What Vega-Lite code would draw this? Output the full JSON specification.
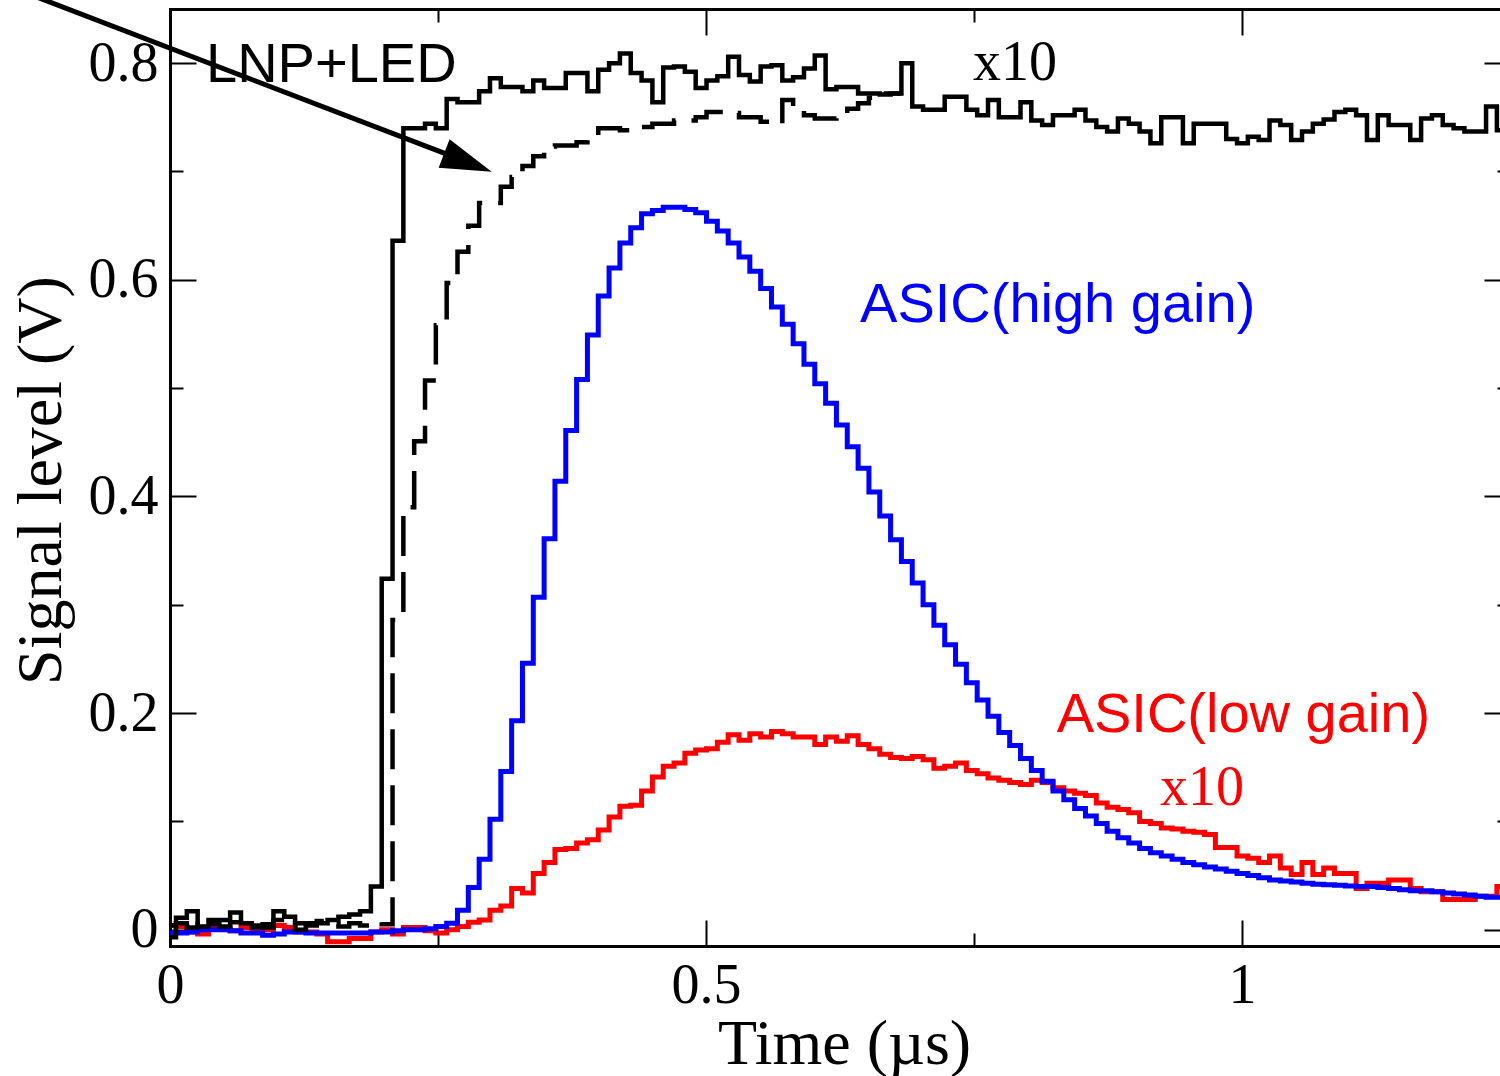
{
"$schema": "https://vega.github.io/schema/vega-lite/v6.json",
"width": 1330,
"height": 937,
"autosize": {"type": "none"},
"padding": {"left": 170, "top": 9, "right": 0, "bottom": 130},
"background": "white",
"config": {
  "view": {"stroke": null},
  "axis": {"grid": false, "domainColor": "#000000", "domainWidth": 3, "domainCap": "square", "tickColor": "#000000", "tickWidth": 2, "tickSize": -26, "labelColor": "#000000", "titleColor": "#000000", "labelFont": "Liberation Serif", "titleFont": "Liberation Serif", "labelFontSize": 56, "titleFontSize": 64, "titleFontWeight": "normal", "labelFlush": false, "labelOverlap": false, "labelPadding": 38, "zindex": 1}
},
"resolve": {"axis": {"x": "independent", "y": "independent"}},
"datasets": {
"lnp": [{"t":0,"v":-0.007},{"t":0.0056,"v":0.011},{"t":0.0157,"v":0.017},{"t":0.0258,"v":0.003},{"t":0.0359,"v":0.009},{"t":0.046,"v":0.009},{"t":0.0561,"v":0.016},{"t":0.0662,"v":0.006},{"t":0.0763,"v":0.002},{"t":0.0864,"v":0.002},{"t":0.0965,"v":0.017},{"t":0.1066,"v":0.012},{"t":0.1167,"v":0.0},{"t":0.1268,"v":0.006},{"t":0.1369,"v":0.006},{"t":0.147,"v":0.009},{"t":0.1571,"v":0.012},{"t":0.1672,"v":0.014},{"t":0.1773,"v":0.017},{"t":0.1874,"v":0.040},{"t":0.1975,"v":0.324},{"t":0.2076,"v":0.636},{"t":0.2177,"v":0.740},{"t":0.2278,"v":0.740},{"t":0.2379,"v":0.744},{"t":0.248,"v":0.740},{"t":0.2581,"v":0.767},{"t":0.2682,"v":0.764},{"t":0.2783,"v":0.764},{"t":0.2884,"v":0.774},{"t":0.2985,"v":0.786},{"t":0.3086,"v":0.778},{"t":0.3187,"v":0.778},{"t":0.3288,"v":0.774},{"t":0.3389,"v":0.784},{"t":0.349,"v":0.777},{"t":0.3591,"v":0.777},{"t":0.3692,"v":0.791},{"t":0.3793,"v":0.791},{"t":0.3894,"v":0.774},{"t":0.3995,"v":0.794},{"t":0.4096,"v":0.800},{"t":0.4197,"v":0.809},{"t":0.4298,"v":0.791},{"t":0.4399,"v":0.784},{"t":0.45,"v":0.764},{"t":0.4601,"v":0.796},{"t":0.4702,"v":0.797},{"t":0.4803,"v":0.792},{"t":0.4904,"v":0.777},{"t":0.5005,"v":0.784},{"t":0.5106,"v":0.788},{"t":0.5207,"v":0.806},{"t":0.5308,"v":0.789},{"t":0.5409,"v":0.783},{"t":0.551,"v":0.797},{"t":0.5611,"v":0.798},{"t":0.5712,"v":0.784},{"t":0.5813,"v":0.787},{"t":0.5914,"v":0.795},{"t":0.6015,"v":0.807},{"t":0.6116,"v":0.776},{"t":0.6217,"v":0.778},{"t":0.6318,"v":0.778},{"t":0.6419,"v":0.772},{"t":0.652,"v":0.772},{"t":0.6621,"v":0.771},{"t":0.6722,"v":0.772},{"t":0.6823,"v":0.800},{"t":0.6924,"v":0.760},{"t":0.7025,"v":0.757},{"t":0.7126,"v":0.757},{"t":0.7227,"v":0.769},{"t":0.7328,"v":0.769},{"t":0.7429,"v":0.757},{"t":0.753,"v":0.752},{"t":0.7631,"v":0.766},{"t":0.7732,"v":0.750},{"t":0.7833,"v":0.750},{"t":0.7934,"v":0.764},{"t":0.8035,"v":0.747},{"t":0.8136,"v":0.743},{"t":0.8237,"v":0.752},{"t":0.8338,"v":0.752},{"t":0.8439,"v":0.757},{"t":0.854,"v":0.747},{"t":0.8641,"v":0.741},{"t":0.8742,"v":0.737},{"t":0.8843,"v":0.749},{"t":0.8944,"v":0.744},{"t":0.9045,"v":0.737},{"t":0.9146,"v":0.726},{"t":0.9247,"v":0.750},{"t":0.9348,"v":0.750},{"t":0.9449,"v":0.726},{"t":0.955,"v":0.744},{"t":0.9651,"v":0.744},{"t":0.9752,"v":0.744},{"t":0.9853,"v":0.730},{"t":0.9954,"v":0.726},{"t":1.0055,"v":0.732},{"t":1.0156,"v":0.729},{"t":1.0257,"v":0.747},{"t":1.0358,"v":0.743},{"t":1.0459,"v":0.729},{"t":1.056,"v":0.737},{"t":1.0661,"v":0.744},{"t":1.0762,"v":0.748},{"t":1.0863,"v":0.755},{"t":1.0964,"v":0.757},{"t":1.1065,"v":0.752},{"t":1.1166,"v":0.729},{"t":1.1267,"v":0.752},{"t":1.1368,"v":0.743},{"t":1.1469,"v":0.743},{"t":1.157,"v":0.729},{"t":1.1671,"v":0.749},{"t":1.1772,"v":0.752},{"t":1.1873,"v":0.743},{"t":1.1974,"v":0.740},{"t":1.2075,"v":0.737},{"t":1.2176,"v":0.737},{"t":1.2277,"v":0.760},{"t":1.2378,"v":0.738},{"t":1.2479,"v":0.734}],
"lnpd": [{"t":0,"v":0.004},{"t":0.0056,"v":0.006},{"t":0.0157,"v":0.002},{"t":0.0258,"v":0.008},{"t":0.0359,"v":0.005},{"t":0.046,"v":0.003},{"t":0.0561,"v":0.007},{"t":0.0662,"v":0.010},{"t":0.0763,"v":0.004},{"t":0.0864,"v":0.005},{"t":0.0965,"v":0.009},{"t":0.1066,"v":0.003},{"t":0.1167,"v":0.006},{"t":0.1268,"v":0.004},{"t":0.1369,"v":0.008},{"t":0.147,"v":0.005},{"t":0.1571,"v":0.003},{"t":0.1672,"v":0.006},{"t":0.1773,"v":0.004},{"t":0.1874,"v":0.007},{"t":0.1975,"v":0.005},{"t":0.2076,"v":0.286},{"t":0.2177,"v":0.39},{"t":0.2278,"v":0.451},{"t":0.2379,"v":0.507},{"t":0.248,"v":0.558},{"t":0.2581,"v":0.597},{"t":0.2682,"v":0.626},{"t":0.2783,"v":0.650},{"t":0.2884,"v":0.671},{"t":0.2985,"v":0.671},{"t":0.3086,"v":0.686},{"t":0.3187,"v":0.695},{"t":0.3288,"v":0.705},{"t":0.3389,"v":0.714},{"t":0.349,"v":0.723},{"t":0.3591,"v":0.724},{"t":0.3692,"v":0.724},{"t":0.3793,"v":0.727},{"t":0.3894,"v":0.729},{"t":0.3995,"v":0.740},{"t":0.4096,"v":0.740},{"t":0.4197,"v":0.738},{"t":0.4298,"v":0.741},{"t":0.4399,"v":0.741},{"t":0.45,"v":0.744},{"t":0.4601,"v":0.744},{"t":0.4702,"v":0.747},{"t":0.4803,"v":0.747},{"t":0.4904,"v":0.750},{"t":0.5005,"v":0.755},{"t":0.5106,"v":0.755},{"t":0.5207,"v":0.754},{"t":0.5308,"v":0.750},{"t":0.5409,"v":0.750},{"t":0.551,"v":0.746},{"t":0.5611,"v":0.744},{"t":0.5712,"v":0.766},{"t":0.5813,"v":0.757},{"t":0.5914,"v":0.752},{"t":0.6015,"v":0.749},{"t":0.6116,"v":0.749},{"t":0.6217,"v":0.756},{"t":0.6318,"v":0.758},{"t":0.6419,"v":0.763},{"t":0.652,"v":0.768},{"t":0.6621,"v":0.772},{"t":0.6722,"v":0.772},{"t":0.6823,"v":0.772}],
"hi": [{"t":0,"v":-0.003},{"t":0.0056,"v":-0.003},{"t":0.0157,"v":-0.002},{"t":0.0258,"v":0.0},{"t":0.0359,"v":0.0},{"t":0.046,"v":0.0},{"t":0.0561,"v":-0.001},{"t":0.0662,"v":-0.003},{"t":0.0763,"v":-0.003},{"t":0.0864,"v":-0.005},{"t":0.0965,"v":-0.004},{"t":0.1066,"v":-0.002},{"t":0.1167,"v":-0.002},{"t":0.1268,"v":-0.003},{"t":0.1369,"v":-0.003},{"t":0.147,"v":-0.003},{"t":0.1571,"v":-0.003},{"t":0.1672,"v":-0.003},{"t":0.1773,"v":-0.003},{"t":0.1874,"v":-0.002},{"t":0.1975,"v":-0.002},{"t":0.2076,"v":-0.001},{"t":0.2177,"v":0.0},{"t":0.2278,"v":0.0},{"t":0.2379,"v":0.001},{"t":0.248,"v":0.003},{"t":0.2581,"v":0.006},{"t":0.2682,"v":0.018},{"t":0.2783,"v":0.039},{"t":0.2884,"v":0.065},{"t":0.2985,"v":0.102},{"t":0.3086,"v":0.146},{"t":0.3187,"v":0.193},{"t":0.3288,"v":0.246},{"t":0.3389,"v":0.307},{"t":0.349,"v":0.361},{"t":0.3591,"v":0.414},{"t":0.3692,"v":0.461},{"t":0.3793,"v":0.508},{"t":0.3894,"v":0.549},{"t":0.3995,"v":0.585},{"t":0.4096,"v":0.611},{"t":0.4197,"v":0.634},{"t":0.4298,"v":0.648},{"t":0.4399,"v":0.661},{"t":0.45,"v":0.664},{"t":0.4601,"v":0.667},{"t":0.4702,"v":0.667},{"t":0.4803,"v":0.665},{"t":0.4904,"v":0.662},{"t":0.5005,"v":0.654},{"t":0.5106,"v":0.645},{"t":0.5207,"v":0.634},{"t":0.5308,"v":0.621},{"t":0.5409,"v":0.608},{"t":0.551,"v":0.592},{"t":0.5611,"v":0.575},{"t":0.5712,"v":0.559},{"t":0.5813,"v":0.541},{"t":0.5914,"v":0.522},{"t":0.6015,"v":0.504},{"t":0.6116,"v":0.486},{"t":0.6217,"v":0.466},{"t":0.6318,"v":0.446},{"t":0.6419,"v":0.426},{"t":0.652,"v":0.404},{"t":0.6621,"v":0.382},{"t":0.6722,"v":0.360},{"t":0.6823,"v":0.340},{"t":0.6924,"v":0.320},{"t":0.7025,"v":0.300},{"t":0.7126,"v":0.281},{"t":0.7227,"v":0.263},{"t":0.7328,"v":0.245},{"t":0.7429,"v":0.228},{"t":0.753,"v":0.212},{"t":0.7631,"v":0.197},{"t":0.7732,"v":0.182},{"t":0.7833,"v":0.170},{"t":0.7934,"v":0.158},{"t":0.8035,"v":0.147},{"t":0.8136,"v":0.137},{"t":0.8237,"v":0.128},{"t":0.8338,"v":0.120},{"t":0.8439,"v":0.112},{"t":0.854,"v":0.105},{"t":0.8641,"v":0.098},{"t":0.8742,"v":0.091},{"t":0.8843,"v":0.085},{"t":0.8944,"v":0.080},{"t":0.9045,"v":0.075},{"t":0.9146,"v":0.071},{"t":0.9247,"v":0.068},{"t":0.9348,"v":0.065},{"t":0.9449,"v":0.062},{"t":0.955,"v":0.060},{"t":0.9651,"v":0.058},{"t":0.9752,"v":0.056},{"t":0.9853,"v":0.054},{"t":0.9954,"v":0.052},{"t":1.0055,"v":0.050},{"t":1.0156,"v":0.048},{"t":1.0257,"v":0.046},{"t":1.0358,"v":0.045},{"t":1.0459,"v":0.044},{"t":1.056,"v":0.043},{"t":1.0661,"v":0.042},{"t":1.0762,"v":0.0415},{"t":1.0863,"v":0.041},{"t":1.0964,"v":0.0405},{"t":1.1065,"v":0.040},{"t":1.1166,"v":0.040},{"t":1.1267,"v":0.039},{"t":1.1368,"v":0.038},{"t":1.1469,"v":0.037},{"t":1.157,"v":0.036},{"t":1.1671,"v":0.036},{"t":1.1772,"v":0.035},{"t":1.1873,"v":0.034},{"t":1.1974,"v":0.033},{"t":1.2075,"v":0.032},{"t":1.2176,"v":0.031},{"t":1.2277,"v":0.030},{"t":1.2378,"v":0.030},{"t":1.2479,"v":0.030}],
"lo": [{"t":0,"v":0.004},{"t":0.0056,"v":0.003},{"t":0.0157,"v":-0.002},{"t":0.0258,"v":-0.004},{"t":0.0359,"v":0.003},{"t":0.046,"v":0.002},{"t":0.0561,"v":-0.001},{"t":0.0662,"v":0.002},{"t":0.0763,"v":-0.002},{"t":0.0864,"v":0.0},{"t":0.0965,"v":0.004},{"t":0.1066,"v":0.002},{"t":0.1167,"v":-0.002},{"t":0.1268,"v":-0.002},{"t":0.1369,"v":-0.004},{"t":0.147,"v":-0.011},{"t":0.1571,"v":-0.011},{"t":0.1672,"v":-0.008},{"t":0.1773,"v":-0.008},{"t":0.1874,"v":-0.002},{"t":0.1975,"v":0.0},{"t":0.2076,"v":-0.004},{"t":0.2177,"v":0.002},{"t":0.2278,"v":0.002},{"t":0.2379,"v":-0.001},{"t":0.248,"v":-0.003},{"t":0.2581,"v":0.0},{"t":0.2682,"v":0.003},{"t":0.2783,"v":0.007},{"t":0.2884,"v":0.009},{"t":0.2985,"v":0.018},{"t":0.3086,"v":0.022},{"t":0.3187,"v":0.038},{"t":0.3288,"v":0.034},{"t":0.3389,"v":0.052},{"t":0.349,"v":0.062},{"t":0.3591,"v":0.074},{"t":0.3692,"v":0.075},{"t":0.3793,"v":0.080},{"t":0.3894,"v":0.083},{"t":0.3995,"v":0.092},{"t":0.4096,"v":0.104},{"t":0.4197,"v":0.114},{"t":0.4298,"v":0.115},{"t":0.4399,"v":0.128},{"t":0.45,"v":0.141},{"t":0.4601,"v":0.151},{"t":0.4702,"v":0.154},{"t":0.4803,"v":0.163},{"t":0.4904,"v":0.166},{"t":0.5005,"v":0.167},{"t":0.5106,"v":0.173},{"t":0.5207,"v":0.180},{"t":0.5308,"v":0.175},{"t":0.5409,"v":0.181},{"t":0.551,"v":0.178},{"t":0.5611,"v":0.183},{"t":0.5712,"v":0.181},{"t":0.5813,"v":0.178},{"t":0.5914,"v":0.178},{"t":0.6015,"v":0.171},{"t":0.6116,"v":0.178},{"t":0.6217,"v":0.174},{"t":0.6318,"v":0.179},{"t":0.6419,"v":0.171},{"t":0.652,"v":0.167},{"t":0.6621,"v":0.162},{"t":0.6722,"v":0.159},{"t":0.6823,"v":0.158},{"t":0.6924,"v":0.160},{"t":0.7025,"v":0.157},{"t":0.7126,"v":0.149},{"t":0.7227,"v":0.151},{"t":0.7328,"v":0.154},{"t":0.7429,"v":0.147},{"t":0.753,"v":0.144},{"t":0.7631,"v":0.140},{"t":0.7732,"v":0.138},{"t":0.7833,"v":0.136},{"t":0.7934,"v":0.134},{"t":0.8035,"v":0.138},{"t":0.8136,"v":0.136},{"t":0.8237,"v":0.131},{"t":0.8338,"v":0.128},{"t":0.8439,"v":0.126},{"t":0.854,"v":0.124},{"t":0.8641,"v":0.117},{"t":0.8742,"v":0.113},{"t":0.8843,"v":0.111},{"t":0.8944,"v":0.108},{"t":0.9045,"v":0.100},{"t":0.9146,"v":0.098},{"t":0.9247,"v":0.094},{"t":0.9348,"v":0.093},{"t":0.9449,"v":0.091},{"t":0.955,"v":0.090},{"t":0.9651,"v":0.088},{"t":0.9752,"v":0.076},{"t":0.9853,"v":0.076},{"t":0.9954,"v":0.068},{"t":1.0055,"v":0.066},{"t":1.0156,"v":0.062},{"t":1.0257,"v":0.068},{"t":1.0358,"v":0.057},{"t":1.0459,"v":0.051},{"t":1.056,"v":0.062},{"t":1.0661,"v":0.051},{"t":1.0762,"v":0.057},{"t":1.0863,"v":0.052},{"t":1.0964,"v":0.052},{"t":1.1065,"v":0.038},{"t":1.1166,"v":0.043},{"t":1.1267,"v":0.043},{"t":1.1368,"v":0.046},{"t":1.1469,"v":0.046},{"t":1.157,"v":0.038},{"t":1.1671,"v":0.035},{"t":1.1772,"v":0.035},{"t":1.1873,"v":0.028},{"t":1.1974,"v":0.028},{"t":1.2075,"v":0.028},{"t":1.2176,"v":0.031},{"t":1.2277,"v":0.031},{"t":1.2378,"v":0.040},{"t":1.2479,"v":0.040}],
"notes": [
  {"t":0.0336,"v":0.7826,"label":"LNP+LED","grp":"LNP+LED","kind":"name"},
  {"t":0.749,"v":0.7845,"label":"x10","grp":"LNP+LED","kind":"factor"},
  {"t":0.6437,"v":0.5606,"label":"ASIC(high gain)","grp":"ASIC high","kind":"name"},
  {"t":0.8271,"v":0.1828,"label":"ASIC(low gain)","grp":"ASIC low","kind":"name"},
  {"t":0.9235,"v":0.1151,"label":"x10","grp":"ASIC low","kind":"factor"}
],
"arrow": [{"t":-0.1493,"v":0.8705,"t2":0.2612,"v2":0.7148}],
"head": [{"t":0.2779,"v":0.7082}]
},
"layer": [
  {
    "data": {"name": "lo"},
    "mark": {"type": "line", "interpolate": "step-after", "color": "#ff0000", "strokeWidth": 5, "clip": true},
    "encoding": {
      "x": {"field": "t", "type": "quantitative", "scale": {"domain": [0, 1.2407], "nice": false, "zero": false},
        "axis": {"orient": "top", "values": [0.5, 1], "labels": false, "title": null, "tickSize": -26}},
      "y": {"field": "v", "type": "quantitative", "scale": {"domain": [-0.015, 0.85], "nice": false, "zero": false},
        "axis": {"orient": "right", "offset": 10, "values": [0, 0.2, 0.4, 0.6, 0.8], "labels": false, "title": null, "tickSize": -26}}
    }
  },
  {
    "data": {"name": "hi"},
    "mark": {"type": "line", "interpolate": "step-after", "color": "#0000ff", "strokeWidth": 5, "clip": true},
    "encoding": {
      "x": {"field": "t", "type": "quantitative", "scale": {"domain": [0, 1.2407], "nice": false, "zero": false},
        "axis": {"orient": "top", "values": [0.25, 0.75], "labels": false, "title": null, "domain": false, "tickSize": -13}},
      "y": {"field": "v", "type": "quantitative", "scale": {"domain": [-0.015, 0.85], "nice": false, "zero": false},
        "axis": {"orient": "right", "offset": 10, "values": [0.1, 0.3, 0.5, 0.7], "labels": false, "title": null, "domain": false, "tickSize": -13}}
    }
  },
  {
    "data": {"name": "lnpd"},
    "mark": {"type": "line", "interpolate": "step-after", "color": "#000000", "strokeWidth": 4.5, "strokeDash": [40, 16], "clip": true},
    "encoding": {
      "x": {"field": "t", "type": "quantitative", "scale": {"domain": [0, 1.2407], "nice": false, "zero": false},
        "axis": {"orient": "bottom", "values": [0.25, 0.75], "labels": false, "title": null, "domain": false, "tickSize": -13}},
      "y": {"field": "v", "type": "quantitative", "scale": {"domain": [-0.015, 0.85], "nice": false, "zero": false},
        "axis": {"orient": "left", "values": [0.1, 0.3, 0.5, 0.7], "labels": false, "title": null, "domain": false, "tickSize": -13}}
    }
  },
  {
    "data": {"name": "lnp"},
    "mark": {"type": "line", "interpolate": "step-after", "color": "#000000", "strokeWidth": 4.5, "clip": true},
    "encoding": {
      "x": {"field": "t", "type": "quantitative", "scale": {"domain": [0, 1.2407], "nice": false, "zero": false},
        "axis": {"orient": "bottom", "values": [0, 0.5, 1], "format": "~g", "tickSize": -26,
          "title": "Time (µs)", "titleX": 674, "titleY": 117, "titleAlign": "center", "titleBaseline": "alphabetic"}},
      "y": {"field": "v", "type": "quantitative", "scale": {"domain": [-0.015, 0.85], "nice": false, "zero": false},
        "axis": {"orient": "left", "values": [0, 0.2, 0.4, 0.6, 0.8], "format": "~g", "tickSize": -26,
          "title": "Signal level (V)", "titleX": -110, "titleY": 471, "titleAngle": 270, "titleAlign": "center", "titleBaseline": "alphabetic"}}
    }
  },
  {
    "data": {"name": "notes"},
    "transform": [{"filter": "datum.kind == 'name'"}],
    "mark": {"type": "text", "font": "Liberation Sans", "fontSize": 56, "align": "left", "baseline": "alphabetic"},
    "encoding": {
      "x": {"field": "t", "type": "quantitative", "scale": {"domain": [0, 1.2407], "nice": false, "zero": false}, "axis": null},
      "y": {"field": "v", "type": "quantitative", "scale": {"domain": [-0.015, 0.85], "nice": false, "zero": false}, "axis": null},
      "text": {"field": "label"},
      "color": {"field": "grp", "type": "nominal", "scale": {"domain": ["LNP+LED", "ASIC high", "ASIC low"], "range": ["#000000", "#0000ff", "#ff0000"]}, "legend": null}
    }
  },
  {
    "data": {"name": "notes"},
    "transform": [{"filter": "datum.kind == 'factor'"}],
    "mark": {"type": "text", "font": "Liberation Serif", "fontSize": 56, "align": "left", "baseline": "alphabetic"},
    "encoding": {
      "x": {"field": "t", "type": "quantitative", "scale": {"domain": [0, 1.2407], "nice": false, "zero": false}, "axis": null},
      "y": {"field": "v", "type": "quantitative", "scale": {"domain": [-0.015, 0.85], "nice": false, "zero": false}, "axis": null},
      "text": {"field": "label"},
      "color": {"field": "grp", "type": "nominal", "scale": {"domain": ["LNP+LED", "ASIC high", "ASIC low"], "range": ["#000000", "#0000ff", "#ff0000"]}, "legend": null}
    }
  },
  {
    "data": {"name": "arrow"},
    "mark": {"type": "rule", "color": "#000000", "strokeWidth": 5},
    "encoding": {
      "x": {"field": "t", "type": "quantitative", "scale": {"domain": [0, 1.2407], "nice": false, "zero": false}, "axis": null},
      "y": {"field": "v", "type": "quantitative", "scale": {"domain": [-0.015, 0.85], "nice": false, "zero": false}, "axis": null},
      "x2": {"field": "t2"},
      "y2": {"field": "v2"}
    }
  },
  {
    "data": {"name": "head"},
    "mark": {"type": "point", "shape": "M1,0L-1,-0.6L-1,0.6Z", "size": 2600, "angle": 21, "filled": true, "color": "#000000", "opacity": 1, "strokeWidth": 0},
    "encoding": {
      "x": {"field": "t", "type": "quantitative", "scale": {"domain": [0, 1.2407], "nice": false, "zero": false}, "axis": null},
      "y": {"field": "v", "type": "quantitative", "scale": {"domain": [-0.015, 0.85], "nice": false, "zero": false}, "axis": null}
    }
  }
]
}
